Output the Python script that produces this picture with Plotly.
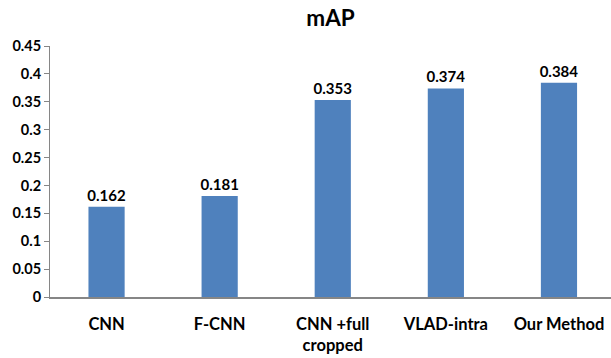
import plotly.graph_objects as go

# mAP per retrieval method
methods = ["CNN", "F-CNN", "CNN +full<br>cropped", "VLAD-intra", "Our Method"]
map_scores = [0.162, 0.181, 0.353, 0.374, 0.384]
value_labels = ["0.162", "0.181", "0.353", "0.374", "0.384"]

FONT = "Lato"
BAR_BLUE = "#4F81BD"
AXIS_GREY = "#868686"

fig = go.Figure(
    go.Bar(
        x=methods,
        y=map_scores,
        text=value_labels,
        textposition="outside",
        constraintext="none",
        textfont=dict(family=FONT, size=15, color="#000000", weight="bold"),
        marker=dict(color=BAR_BLUE, line=dict(width=0)),
        width=0.32,
        cliponaxis=False,
    )
)

fig.update_layout(
    width=611,
    height=358,
    margin=dict(l=50, r=0, t=46, b=61),
    paper_bgcolor="white",
    plot_bgcolor="white",
    showlegend=False,
    title=dict(
        text="mAP",
        x=0.541,
        xanchor="center",
        y=0.95,
        yanchor="middle",
        font=dict(family=FONT, size=22.5, color="#000000", weight="bold"),
    ),
    font=dict(family=FONT, color="#000000"),
)

fig.update_xaxes(
    range=[-0.5, 4.46],
    showline=True,
    linecolor=AXIS_GREY,
    linewidth=1.5,
    ticks="",
    showgrid=False,
    ticklabelstandoff=11,
    tickfont=dict(family=FONT, size=16.5, color="#000000", weight="bold"),
)

fig.update_yaxes(
    range=[0, 0.45],
    dtick=0.05,
    tick0=0,
    showline=True,
    linecolor=AXIS_GREY,
    linewidth=1,
    ticks="outside",
    ticklen=5,
    tickcolor=AXIS_GREY,
    showgrid=False,
    zeroline=False,
    tickfont=dict(family=FONT, size=14.5, color="#000000", weight="bold"),
)

fig.write_html("out.html")
